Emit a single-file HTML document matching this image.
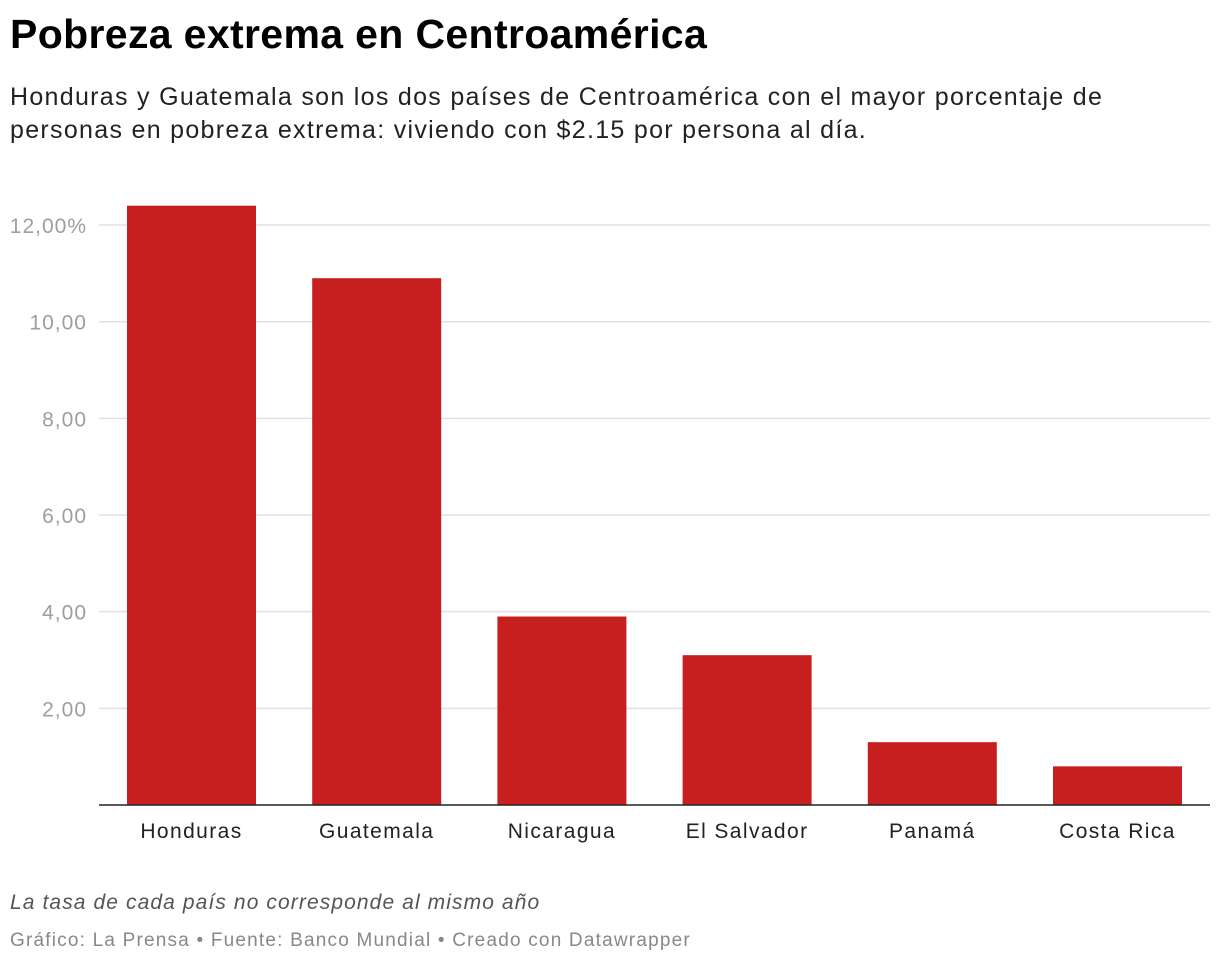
<!DOCTYPE html>
<html><head><meta charset="utf-8">
<style>
body{margin:0;width:1220px;height:964px;background:#fff;font-family:"Liberation Sans",sans-serif;overflow:hidden;position:relative}
.t{position:absolute;left:10px;white-space:nowrap}
</style></head><body>
<div class="t" style="top:11px;font-size:41px;font-weight:bold;color:#000;letter-spacing:0.35px">Pobreza extrema en Centroamérica</div>
<div class="t" style="top:81px;font-size:25px;line-height:33px;color:#222;letter-spacing:1.3px">Honduras y Guatemala son los dos países de Centroamérica con el mayor porcentaje de<br>personas en pobreza extrema: viviendo con $2.15 por persona al día.</div>
<svg id="chart" width="1220" height="964" style="position:absolute;left:0;top:0"></svg>
<div class="t" style="top:891px;font-size:21px;font-style:italic;color:#555;letter-spacing:1.1px">La tasa de cada país no corresponde al mismo año</div>
<div class="t" style="top:930px;font-size:19px;color:#888;letter-spacing:1.2px">Gráfico: La Prensa • Fuente: Banco Mundial • Creado con Datawrapper</div>
<script>
const categories=["Honduras","Guatemala","Nicaragua","El Salvador","Panamá","Costa Rica"];
const values=[12.4,10.9,3.9,3.1,1.3,0.8];
const ticks=[2,4,6,8,10,12];
const tickLabels=["2,00","4,00","6,00","8,00","10,00","12,00%"];
const NS="http://www.w3.org/2000/svg";
const svg=document.getElementById("chart");
const x0=99,x1=1210,base=805,pxPer=48.33;
const y=v=>base-v*pxPer;
const step=185.2, bw=129;
const bx=i=>x0+28+i*step;
function mk(t,a){const e=document.createElementNS(NS,t);for(const k in a)e.setAttribute(k,a[k]);svg.appendChild(e);return e;}
ticks.forEach((t,i)=>{
 const l=mk("line",{x1:x0,x2:x1,y1:y(t),y2:y(t),stroke:"#e0e0e0","stroke-width":1.5});
 
 
 const tx=mk("text",{x:87,y:y(t)+8,"text-anchor":"end","font-size":21,fill:"#9e9e9e","font-family":"Liberation Sans, sans-serif","letter-spacing":1});
 tx.textContent=tickLabels[i];
 
 
});
values.forEach((v,i)=>{
 const r=mk("rect",{x:bx(i),y:y(v),width:bw,height:base-y(v),fill:"#c71e1f"});
 
 
 const tx=mk("text",{x:bx(i)+bw/2,y:838,"text-anchor":"middle","font-size":21,fill:"#222","font-family":"Liberation Sans, sans-serif","letter-spacing":1.4});
 tx.textContent=categories[i];
 
 
});
const ax=mk("line",{x1:x0,x2:x1,y1:base,y2:base,stroke:"#222","stroke-width":1.5});


</script>
</body></html>
